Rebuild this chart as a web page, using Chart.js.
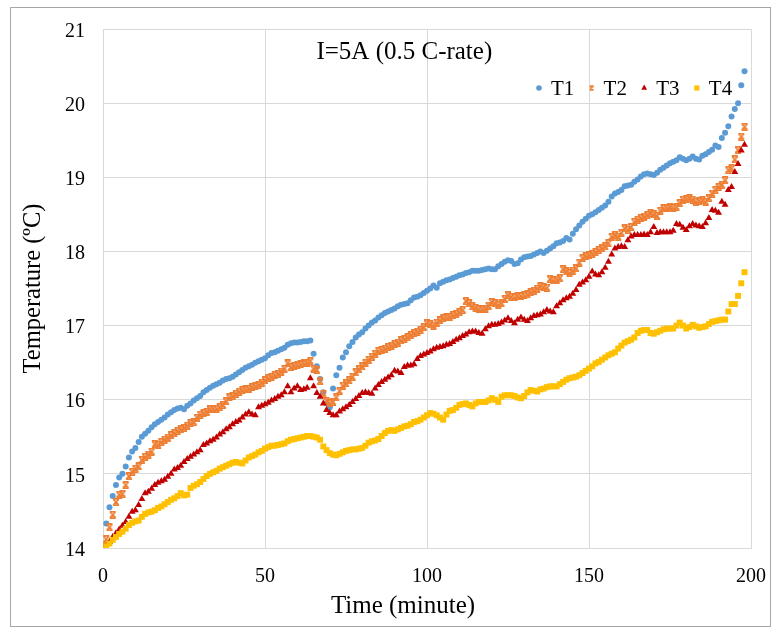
<!DOCTYPE html>
<html><head><meta charset="utf-8">
<script src="https://cdn.jsdelivr.net/npm/chart.js@4.4.0/dist/chart.umd.min.js"></script>
<style>html,body{margin:0;padding:0;background:#fff;}#wrap{width:775px;height:631px;}</style>
</head><body><div id="wrap"><canvas id="c" width="775" height="631"></canvas></div>
<script>
const minutes = [0,1,2,3,4,5,6,7,8,9,10,11,12,13,14,15,16,17,18,19,20,21,22,23,24,25,26,27,28,29,30,31,32,33,34,35,36,37,38,39,40,41,42,43,44,45,46,47,48,49,50,51,52,53,54,55,56,57,58,59,60,61,62,63,64,65,66,67,68,69,70,71,72,73,74,75,76,77,78,79,80,81,82,83,84,85,86,87,88,89,90,91,92,93,94,95,96,97,98,99,100,101,102,103,104,105,106,107,108,109,110,111,112,113,114,115,116,117,118,119,120,121,122,123,124,125,126,127,128,129,130,131,132,133,134,135,136,137,138,139,140,141,142,143,144,145,146,147,148,149,150,151,152,153,154,155,156,157,158,159,160,161,162,163,164,165,166,167,168,169,170,171,172,173,174,175,176,177,178,179,180,181,182,183,184,185,186,187,188,189,190,191,192,193,194,195,196,197,198];

const T1 = [14.02,14.33,14.55,14.70,14.85,14.95,15.00,15.10,15.22,15.30,
15.35,15.43,15.50,15.54,15.58,15.63,15.67,15.70,15.73,15.76,
15.80,15.83,15.86,15.88,15.89,15.87,15.92,15.95,15.99,16.02,
16.05,16.10,16.13,16.16,16.19,16.21,16.23,16.26,16.28,16.29,
16.31,16.34,16.37,16.40,16.43,16.45,16.47,16.50,16.52,16.54,
16.56,16.60,16.63,16.64,16.66,16.68,16.70,16.74,16.76,16.77,
16.77,16.78,16.79,16.79,16.80,16.62,16.45,16.28,16.10,15.95,
15.90,16.15,16.33,16.43,16.57,16.64,16.72,16.78,16.84,16.88,
16.91,16.96,17.00,17.04,17.07,17.11,17.14,17.17,17.19,17.21,
17.23,17.26,17.28,17.29,17.30,17.34,17.38,17.39,17.41,17.44,
17.47,17.50,17.54,17.51,17.57,17.59,17.61,17.62,17.64,17.66,
17.68,17.69,17.71,17.72,17.74,17.74,17.74,17.75,17.76,17.77,
17.76,17.76,17.80,17.83,17.86,17.88,17.87,17.83,17.84,17.89,
17.92,17.93,17.94,17.96,17.98,18.00,17.98,18.01,18.04,18.07,
18.11,18.12,18.14,18.18,18.16,18.24,18.30,18.35,18.40,18.44,
18.48,18.50,18.53,18.56,18.59,18.62,18.67,18.74,18.78,18.80,
18.83,18.88,18.89,18.90,18.94,18.97,19.01,19.04,19.05,19.04,
19.03,19.06,19.10,19.13,19.16,19.19,19.21,19.23,19.27,19.25,
19.23,19.25,19.28,19.25,19.24,19.29,19.31,19.34,19.37,19.43,
19.41,19.53,19.60,19.69,19.82,19.92,20.00,20.24,20.43];

const T2 = [14.02,14.12,14.28,14.45,14.62,14.72,14.73,14.85,14.97,15.03,
15.07,15.10,15.19,15.23,15.26,15.30,15.40,15.39,15.43,15.46,
15.49,15.52,15.55,15.58,15.60,15.62,15.65,15.68,15.70,15.76,
15.80,15.82,15.84,15.87,15.88,15.88,15.90,15.93,15.98,16.03,
16.05,16.08,16.11,16.13,16.14,16.15,16.17,16.18,16.20,16.23,
16.26,16.29,16.31,16.33,16.35,16.38,16.42,16.49,16.44,16.46,
16.47,16.48,16.49,16.50,16.52,16.42,16.40,16.25,16.08,15.98,
15.95,15.97,16.03,16.12,16.19,16.22,16.26,16.31,16.37,16.41,
16.45,16.50,16.54,16.58,16.62,16.66,16.67,16.69,16.71,16.73,
16.75,16.77,16.80,16.82,16.84,16.87,16.90,16.92,16.94,16.98,
17.03,17.02,17.00,17.04,17.07,17.10,17.11,17.12,17.14,17.16,
17.18,17.21,17.33,17.30,17.26,17.24,17.22,17.22,17.23,17.27,
17.32,17.30,17.28,17.30,17.36,17.41,17.39,17.38,17.40,17.40,
17.41,17.42,17.45,17.47,17.50,17.53,17.52,17.51,17.63,17.61,
17.62,17.64,17.76,17.73,17.71,17.74,17.77,17.85,17.91,17.94,
17.95,17.97,17.99,18.02,18.04,18.07,18.11,18.20,18.22,18.20,
18.25,18.31,18.29,18.33,18.40,18.43,18.45,18.47,18.49,18.52,
18.50,18.48,18.55,18.58,18.59,18.60,18.59,18.60,18.65,18.70,
18.71,18.72,18.70,18.67,18.68,18.69,18.67,18.72,18.78,18.83,
18.87,18.90,18.96,19.10,19.12,19.24,19.37,19.55,19.68];

const T3 = [13.98,14.00,14.08,14.15,14.20,14.25,14.30,14.35,14.42,14.49,
14.51,14.58,14.66,14.74,14.76,14.80,14.85,14.88,14.90,14.92,
14.96,15.00,15.06,15.08,15.11,15.16,15.20,15.23,15.26,15.29,
15.32,15.39,15.41,15.44,15.46,15.49,15.53,15.56,15.60,15.63,
15.67,15.70,15.72,15.76,15.80,15.83,15.80,15.79,15.90,15.92,
15.94,15.96,15.99,16.01,16.04,16.06,16.10,16.18,16.10,16.15,
16.18,16.13,16.14,16.16,16.29,16.18,16.09,16.04,15.95,15.86,
15.82,15.79,15.79,15.84,15.87,15.90,15.93,15.97,16.01,16.05,
16.09,16.10,16.09,16.08,16.15,16.20,16.24,16.27,16.30,16.33,
16.39,16.38,16.36,16.44,16.46,16.46,16.48,16.55,16.59,16.61,
16.63,16.65,16.68,16.70,16.71,16.72,16.74,16.75,16.78,16.81,
16.83,16.86,16.88,16.91,16.92,16.92,16.90,16.89,16.95,16.99,
17.01,17.01,17.02,17.04,17.07,17.10,17.06,17.03,17.08,17.11,
17.08,17.06,17.10,17.13,17.14,17.15,17.18,17.21,17.19,17.18,
17.26,17.30,17.34,17.37,17.39,17.43,17.48,17.55,17.58,17.61,
17.66,17.73,17.69,17.68,17.72,17.78,17.86,17.96,18.04,18.06,
18.07,18.06,18.15,18.20,18.22,18.22,18.22,18.23,18.22,18.26,
18.33,18.25,18.26,18.26,18.26,18.26,18.28,18.37,18.36,18.32,
18.29,18.34,18.37,18.35,18.34,18.33,18.38,18.45,18.56,18.55,
18.52,18.67,18.63,18.83,18.87,19.07,19.18,19.36,19.44];

const T4 = [13.98,14.02,14.06,14.11,14.15,14.19,14.22,14.26,14.31,14.34,
14.36,14.37,14.42,14.46,14.48,14.49,14.51,14.54,14.56,14.59,
14.62,14.65,14.67,14.70,14.74,14.71,14.72,14.81,14.84,14.86,
14.89,14.93,14.97,15.00,15.02,15.04,15.07,15.09,15.11,15.13,
15.15,15.16,15.15,15.14,15.18,15.22,15.24,15.26,15.29,15.31,
15.34,15.36,15.38,15.38,15.39,15.40,15.41,15.44,15.46,15.47,
15.48,15.49,15.50,15.51,15.51,15.50,15.49,15.46,15.37,15.32,
15.28,15.26,15.25,15.27,15.29,15.31,15.32,15.33,15.33,15.34,
15.35,15.38,15.42,15.44,15.45,15.47,15.51,15.55,15.58,15.59,
15.58,15.60,15.62,15.64,15.65,15.67,15.70,15.71,15.73,15.76,
15.79,15.82,15.81,15.79,15.76,15.73,15.80,15.85,15.86,15.89,
15.93,15.94,15.95,15.93,15.91,15.95,15.97,15.97,15.97,15.99,
16.02,16.00,15.97,16.04,16.06,16.06,16.06,16.05,16.03,16.02,
16.05,16.10,16.13,16.12,16.11,16.14,16.15,16.17,16.18,16.18,
16.18,16.21,16.24,16.27,16.29,16.30,16.31,16.33,16.36,16.39,
16.42,16.45,16.49,16.51,16.54,16.57,16.60,16.62,16.64,16.69,
16.73,16.77,16.79,16.81,16.84,16.90,16.93,16.94,16.94,16.90,
16.89,16.91,16.93,16.95,16.96,16.96,16.96,17.00,17.04,17.00,
16.96,16.98,17.01,16.99,16.97,16.98,16.99,17.02,17.05,17.06,
17.07,17.08,17.08,17.19,17.29,17.29,17.40,17.57,17.72];

const seriesNames = ['T1','T2','T3','T4'];
const seriesValues = [T1, T2, T3, T4];
const seriesColors = ['#5B9BD5','#ED7D31','#C00000','#FFC000'];
const xTicks = [0, 50, 100, 150, 200];
const yTicks = [14, 15, 16, 17, 18, 19, 20, 21];
const annotationText = 'I=5A (0.5 C-rate)';
const xTitle = 'Time (minute)';
const yTitle = 'Temperature (ºC)';

// hourglass-like cross marker for T2
function makeCrossMarker(color, s, lw) {
  const c = document.createElement('canvas');
  c.width = s; c.height = s;
  const g = c.getContext('2d');
  g.strokeStyle = color; g.lineWidth = lw;
  g.beginPath();
  g.moveTo(1.2, 1.2); g.lineTo(s - 1.2, s - 1.2);
  g.moveTo(s - 1.2, 1.2); g.lineTo(1.2, s - 1.2);
  g.moveTo(1, 0.9); g.lineTo(s - 1, 0.9);
  g.moveTo(1, s - 0.9); g.lineTo(s - 1, s - 0.9);
  g.stroke();
  return c;
}
const crossMarker = makeCrossMarker(seriesColors[1], 8, 1.6);
const crossMarkerLegend = makeCrossMarker(seriesColors[1], 6, 1.3);

const pointStyles = ['circle', crossMarker, 'triangle', 'rect'];
const pointRadii = [3.0, 4, 4.0, 4.2];
const legendStyles = ['circle', crossMarkerLegend, 'triangle', 'rect'];
const legendRadii = [2.8, 3, 3.4, 3.6];

const datasets = seriesNames.map((name, i) => ({
  label: name,
  data: minutes.map((m, k) => ({x: m, y: seriesValues[i][k]})),
  showLine: false,
  pointStyle: pointStyles[i],
  pointRadius: pointRadii[i],
  pointHoverRadius: pointRadii[i],
  pointBackgroundColor: seriesColors[i],
  pointBorderColor: seriesColors[i],
  pointBorderWidth: 0,
  backgroundColor: seriesColors[i],
  borderColor: seriesColors[i],
  order: 3 - i
}));

const serif = '"Liberation Serif", "Times New Roman", serif';

const overlay = {
  id: 'overlay',
  beforeDraw(chart) {
    const ctx = chart.ctx;
    ctx.save();
    ctx.fillStyle = '#fff';
    ctx.fillRect(0, 0, chart.width, chart.height);
    ctx.strokeStyle = '#a6a6a6';
    ctx.lineWidth = 1;
    ctx.strokeRect(10.5, 7.5, 760, 619);
    ctx.restore();
  },
  afterDraw(chart) {
    const ctx = chart.ctx;
    const a = chart.chartArea;
    const ys = chart.scales.y;
    ctx.save();
    ctx.fillStyle = '#000';
    // y tick labels (Excel places them slightly below the grid line)
    ctx.font = '20px ' + serif;
    ctx.textAlign = 'right';
    ctx.textBaseline = 'middle';
    yTicks.forEach(v => ctx.fillText(String(v), a.left - 18, ys.getPixelForValue(v) + 2.5));
    // x axis title
    ctx.font = '25px ' + serif;
    ctx.textAlign = 'center';
    ctx.fillText(xTitle, a.left + 0.463 * (a.right - a.left), a.bottom + 58);
    // annotation
    ctx.fillText(annotationText, a.left + 0.465 * (a.right - a.left), a.top + 23);
    // legend
    const ly = a.top + 59;
    ctx.textAlign = 'left';
    ctx.font = '21px ' + serif;
    seriesNames.forEach((name, i) => {
      const mx = a.left + 436 + 52.6 * i;
      ctx.fillStyle = seriesColors[i];
      ctx.strokeStyle = seriesColors[i];
      ctx.beginPath();
      Chart.helpers.drawPoint(ctx, {pointStyle: legendStyles[i], radius: legendRadii[i], borderWidth: 0, rotation: 0}, mx, ly);
      ctx.beginPath();
      ctx.fillStyle = '#000';
      ctx.fillText(name, mx + 12, ly + 1);
    });
    ctx.restore();
  }
};

new Chart(document.getElementById('c'), {
  type: 'scatter',
  data: { datasets },
  options: {
    responsive: false,
    animation: false,
    events: [],
    layout: { padding: { top: 29, right: 24, bottom: 0, left: 0 } },
    plugins: { legend: { display: false }, tooltip: { enabled: false }, title: { display: false } },
    scales: {
      x: {
        type: 'linear', min: xTicks[0], max: xTicks[xTicks.length - 1],
        afterBuildTicks(s) { s.ticks = xTicks.map(v => ({value: v})); },
        afterFit(s) { s.height = 83; s.paddingLeft = 0; s.paddingRight = 0; },
        grid: { color: '#d9d9d9', drawTicks: false, lineWidth: 1 },
        border: { color: '#d9d9d9' },
        ticks: { color: '#000', padding: 17, font: { family: serif, size: 20 }, maxRotation: 0 },
        title: { display: false }
      },
      y: {
        type: 'linear', min: yTicks[0], max: yTicks[yTicks.length - 1],
        afterBuildTicks(s) { s.ticks = yTicks.map(v => ({value: v})); },
        afterFit(s) { s.width = 103; s.paddingTop = 0; s.paddingBottom = 0; },
        grid: { color: '#d9d9d9', drawTicks: false, lineWidth: 1 },
        border: { color: '#d9d9d9' },
        ticks: { display: false },
        title: { display: true, text: yTitle, color: '#000', font: { family: serif, size: 24.5 }, padding: { top: 19 } }
      }
    }
  },
  plugins: [overlay]
});
</script>
</body></html>
